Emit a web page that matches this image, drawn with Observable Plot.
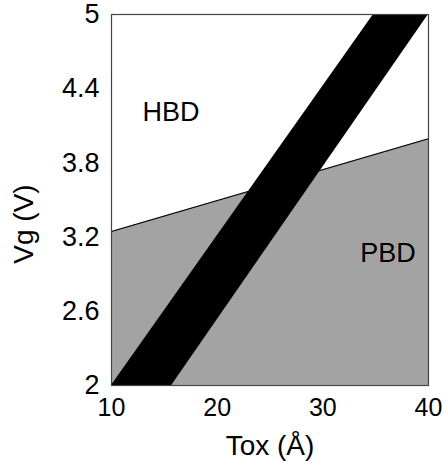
<!DOCTYPE html>
<html>
<head>
<meta charset="utf-8">
<script src="https://cdn.jsdelivr.net/npm/d3@7"></script>
<script src="https://cdn.jsdelivr.net/npm/@observablehq/plot@0.6"></script>
<style>
  body { margin: 0; background: #fff; }
</style>
</head>
<body>
<div id="chart"></div>
<script>
// Tick labels
const toxTicks = [10, 20, 30, 40];
const vgTicks = [2, 2.6, 3.2, 3.8, 4.4, 5];

// PBD (gray) region: boundary Vg vs Tox
const boundaryTox = [10, 40];
const boundaryVg = [3.245, 3.995];

// Black transition band (Vg levels, left and right Tox edges)
const bandVg = [2, 5];
const bandToxLeft = [10, 34.8];
const bandToxRight = [15.7, 40];

// Region labels
const regionNames = ["HBD", "PBD"];
const regionTox = [15.63, 36.17];
const regionVg = [4.208, 3.067];

const boundary = boundaryTox.map((t, i) => ({tox: t, vg: boundaryVg[i]}));
const band = bandVg.map((v, i) => ({vg: v, x1: bandToxLeft[i], x2: bandToxRight[i]}));
const regions = regionNames.map((n, i) => ({name: n, tox: regionTox[i], vg: regionVg[i]}));

const chart = Plot.plot({
  width: 445,
  height: 461,
  marginLeft: 111,
  marginRight: 17,
  marginTop: 14,
  marginBottom: 76,
  style: {fontFamily: "'Liberation Sans', Arial, sans-serif", fontSize: "25px", background: "#fff", color: "#000"},
  x: {domain: [10, 40]},
  y: {domain: [2, 5]},
  marks: [
    Plot.areaY(boundary, {x: "tox", y1: 2, y2: "vg", fill: "#a3a3a3"}),
    Plot.line(boundary, {x: "tox", y: "vg", stroke: "#000", strokeWidth: 1.2}),
    Plot.areaX(band, {y: "vg", x1: "x1", x2: "x2", fill: "#000"}),
    Plot.frame({stroke: "#444", strokeWidth: 1.2}),
    Plot.axisX({ticks: toxTicks, tickSize: 0, tickPadding: 13, fontSize: 25, label: null}),
    Plot.axisY({ticks: vgTicks, tickSize: 0, tickPadding: 12, fontSize: 27, label: null, tickFormat: d => String(d)}),
    Plot.text(regions, {x: "tox", y: "vg", text: "name", fontSize: 27, fill: "#000"}),
    Plot.text(["Tox (Å)"], {frameAnchor: "bottom", dy: 69, fontSize: 28, fill: "#000"}),
    Plot.text(["Vg (V)"], {frameAnchor: "left", textAnchor: "middle", dx: -87, dy: 24, rotate: -90, fontSize: 28, fill: "#000"})
  ]
});
document.getElementById("chart").appendChild(chart);
</script>
</body>
</html>
